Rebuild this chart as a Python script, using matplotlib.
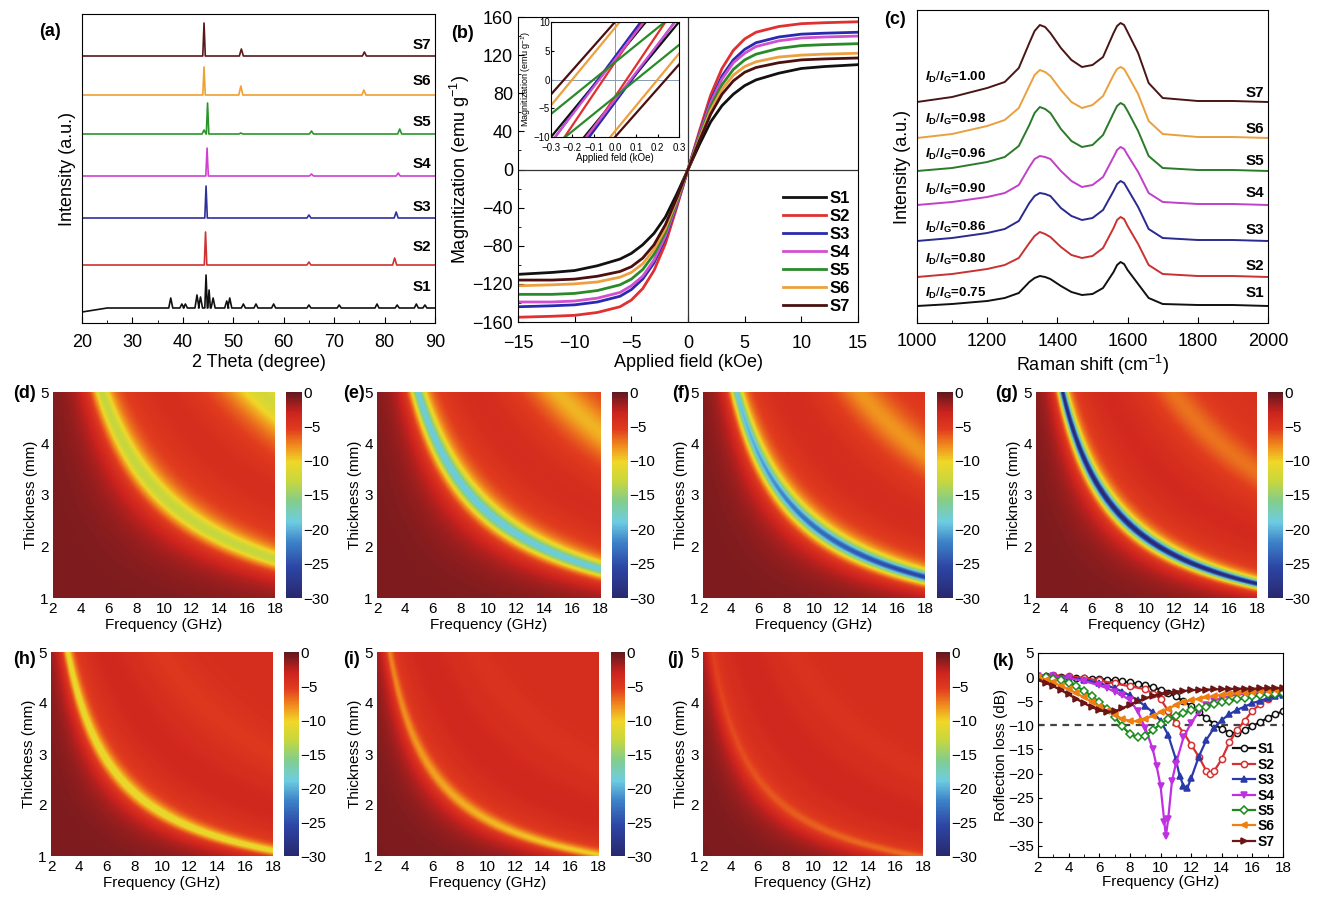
import numpy as np
import matplotlib.pyplot as plt
from matplotlib.colors import LinearSegmentedColormap

plt.rcParams['font.family'] = ['Liberation Sans', 'DejaVu Sans']
plt.rcParams['mathtext.fontset'] = 'custom'
plt.rcParams['mathtext.rm'] = 'Liberation Sans'
plt.rcParams['mathtext.it'] = 'Liberation Sans:italic'
plt.rcParams['mathtext.bf'] = 'Liberation Sans:bold'
plt.rcParams['mathtext.bfit'] = 'Liberation Sans:bold:italic'

samples = ['S1', 'S2', 'S3', 'S4', 'S5', 'S6', 'S7']

# (a) XRD: baseline level and (2theta, height) peaks per sample
xrd_base = [15, 58, 105, 147, 189, 228, 267]
xrd_peaks = [
    [(37.6, 10), (39.8, 4), (40.5, 4), (42.8, 13), (43.5, 11), (44.6, 33), (45.2, 18), (46.0, 10),
     (48.7, 7), (49.3, 10), (52.0, 4), (54.5, 4), (58.0, 4), (65.0, 3), (71.0, 3), (78.5, 4),
     (82.5, 3), (86.3, 4), (88.0, 3)],
    [(44.5, 33), (65.0, 3), (82.0, 7)],
    [(44.6, 32), (65.0, 3), (82.3, 6)],
    [(44.8, 28), (65.5, 2), (82.7, 3)],
    [(44.2, 4), (44.9, 31), (51.5, 1), (65.5, 3), (83.0, 5)],
    [(44.2, 28), (51.5, 9), (75.9, 5)],
    [(44.2, 33), (51.6, 7), (76.0, 4)],
]
xrd_label_y = [36, 76, 116, 159, 201, 242, 278]
xrd_colors = ['#111111', '#d03232', '#30309a', '#d040d0', '#2a962a', '#f0a030', '#5a1818']

# (b) hysteresis
field = [-15, -12, -10, -8, -6, -5, -4, -3, -2, -1, -0.5, 0, 0.5, 1, 2, 3, 4, 5, 6, 8, 10, 12, 15]
mag = [
    [-110, -108, -106, -101, -94, -88, -79, -67, -50, -26, -13, 0, 13, 26, 50, 67, 79, 88, 94, 101, 106, 108, 110],
    [-155, -154, -153, -150, -144, -137, -125, -106, -78, -40, -20, 0, 20, 40, 78, 106, 125, 137, 144, 150, 153, 154, 155],
    [-144, -143, -142, -139, -133, -126, -115, -98, -72, -37, -19, 0, 19, 37, 72, 98, 115, 126, 133, 139, 142, 143, 144],
    [-139, -139, -138, -135, -129, -122, -112, -95, -70, -36, -18, 0, 18, 36, 70, 95, 112, 122, 129, 135, 138, 139, 140],
    [-131, -131, -130, -127, -121, -115, -105, -89, -66, -34, -17, 0, 17, 34, 66, 89, 105, 115, 121, 127, 130, 131, 132],
    [-122, -121, -120, -118, -113, -108, -99, -84, -62, -32, -16, 0, 16, 32, 62, 84, 99, 108, 113, 118, 120, 121, 122],
    [-116, -116, -115, -112, -107, -102, -93, -79, -58, -30, -15, 0, 15, 30, 58, 79, 93, 102, 107, 112, 115, 116, 117],
]
inset_field = [-0.3, 0.3]
inset_upper = [(-10, 17), (-13.5, 19.5), (-11, 19), (-10.9, 17.9), (-6, 12), (-4.5, 22.5), (-2.6, 22.6)]
inset_lower = [(-17, 10), (-19.5, 13.5), (-19, 11), (-17.9, 10.9), (-12, 6), (-22.5, 4.5), (-22.6, 2.6)]
vsm_colors = ['#111111', '#e03030', '#2a2ab0', '#d050d0', '#2a8a2a', '#eea040', '#4a1010']

# (c) Raman
raman_x = [1000, 1100, 1200, 1250, 1290, 1320, 1335, 1350, 1365, 1380, 1410, 1440, 1470, 1500,
           1530, 1560, 1570, 1580, 1590, 1600, 1630, 1660, 1700, 1800, 1900, 2000]
raman_base = [17, 46, 82, 118, 152, 185, 221]
raman_prof = [
    [0, 2, 5, 8, 13, 24, 28, 30, 29, 27, 20, 14, 11, 12, 18, 34, 41, 44, 42, 36, 22, 8, 2, 1, 1, 0],
    [0, 3, 8, 12, 19, 34, 41, 45, 43, 40, 30, 22, 19, 21, 29, 49, 57, 60, 58, 51, 33, 12, 3, 1, 1, 0],
    [0, 3, 8, 12, 20, 38, 45, 48, 47, 45, 33, 25, 21, 23, 31, 50, 57, 60, 58, 52, 34, 12, 3, 1, 1, 0],
    [0, 3, 8, 12, 20, 38, 46, 49, 48, 46, 34, 24, 18, 20, 28, 48, 55, 58, 56, 50, 33, 12, 3, 1, 1, 0],
    [0, 3, 9, 14, 25, 46, 58, 64, 62, 58, 42, 30, 24, 26, 36, 58, 65, 68, 66, 60, 40, 15, 3, 1, 1, 0],
    [0, 4, 12, 18, 30, 52, 63, 68, 66, 62, 48, 36, 30, 33, 42, 63, 69, 71, 69, 63, 44, 17, 4, 1, 1, 0],
    [0, 5, 14, 20, 34, 59, 71, 77, 75, 69, 54, 42, 35, 37, 45, 69, 76, 79, 77, 70, 49, 19, 4, 1, 1, 0],
]
id_ig = ['0.75', '0.80', '0.86', '0.90', '0.96', '0.98', '1.00']
raman_ratio_y = [30, 64, 96, 134, 169, 204, 246]
raman_label_y = [30, 57, 93, 130, 162, 194, 230]
raman_colors = ['#111111', '#c83232', '#2a2a90', '#c040c8', '#2a7a2a', '#e8a040', '#4a1515']

# (d)-(j) RL maps: band crossing t=5 at f_top, band thickness at 18 GHz, depth at top/right end,
# band width, depth of the 3/4-wavelength band
map_labels = ['(d)', '(e)', '(f)', '(g)', '(h)', '(i)', '(j)']
band_f_top = [5.5, 4.9, 4.4, 3.9, 3.2, 2.9, 2.7]
band_t_right = [1.75, 1.55, 1.40, 1.27, 1.10, 1.02, 0.97]
band_depth_top = [-13, -19, -19, -30, -11, -7.5, -5.5]
band_depth_right = [-13, -19, -26, -30, -11, -10, -7]
band_width = [0.10, 0.08, 0.07, 0.05, 0.08, 0.08, 0.09]
band2_depth = [-12, -9, -8, -7, -5, -4.5, -4.5]

# (k) reflection loss
freq_2 = [2, 2.5, 3, 3.5, 4, 4.5, 5, 5.5, 6, 6.5, 7, 7.5, 8, 8.5, 9, 9.5, 10, 10.5, 11, 11.5,
          12, 12.5, 13, 13.5, 14, 14.5, 15, 15.5, 16, 16.5, 17, 17.5, 18]
rl_s1 = [0, 0.2, 0.2, 0.1, 0, -0.1, -0.2, -0.3, -0.4, -0.5, -0.7, -0.9, -1.1, -1.4, -1.7, -2.1, -2.6,
         -3.2, -4.0, -5.0, -6.0, -7.2, -8.5, -9.7, -10.8, -11.5, -11.6, -11.0, -10.2, -9.3, -8.5, -7.7, -7.1]
rl_s5 = [0.1, 0, -0.3, -0.7, -1.2, -1.9, -2.8, -3.9, -5.2, -6.6, -8.2, -10.2, -11.8, -12.5, -12.2, -11,
         -9.7, -8.7, -8.0, -7.4, -6.9, -6.5, -6.1, -5.6, -5.2, -4.9, -4.6, -4.3, -4.0, -3.8, -3.6, -3.4, -3.3]
rl_s6 = [0, -0.5, -1.1, -1.8, -2.5, -3.3, -4.2, -5.1, -6.1, -7.0, -7.9, -8.6, -9.1, -9.2, -8.7, -8.0,
         -7.3, -6.6, -5.8, -5.2, -4.8, -4.5, -4.2, -3.9, -3.7, -3.5, -3.3, -3.2, -3.0, -2.9, -2.8, -2.7, -2.6]
rl_s7 = [-0.6, -1.2, -1.9, -2.7, -3.6, -4.5, -5.4, -6.2, -6.9, -7.2, -7.1, -6.5, -5.7, -5.0, -4.4, -3.9,
         -3.5, -3.2, -3.0, -2.9, -2.7, -2.65, -2.6, -2.55, -2.5, -2.45, -2.4, -2.4, -2.4, -2.35, -2.3, -2.3, -2.3]
freq_s2 = [2, 3, 4, 5, 6, 7, 8, 9, 9.5, 10, 10.5, 11, 11.5, 12, 12.5, 13, 13.25, 13.5, 14, 14.5, 15,
           15.5, 16, 16.5, 17, 17.5, 18]
rl_s2 = [0.3, 0.4, 0.2, -0.2, -0.7, -1.3, -1.9, -2.5, -3.4, -4.5, -7, -9.5, -11.5, -14, -16.5, -19.5,
         -20, -19.5, -17, -13.5, -11, -9, -7, -5.6, -4.5, -3.6, -3.0]
freq_s3 = [2, 3, 4, 5, 6, 7, 7.5, 8, 8.5, 9, 9.5, 10, 10.5, 11, 11.25, 11.5, 11.75, 12, 12.5, 13, 13.5,
           14, 14.5, 15, 15.5, 16, 16.5, 17, 17.5, 18]
rl_s3 = [0.3, 0.3, 0, -0.5, -1.2, -2.3, -3.0, -3.8, -4.8, -6.0, -7.3, -9.0, -12, -17, -20.5, -22.5,
         -23, -21, -16.5, -13, -10.5, -8.9, -7.7, -6.8, -6.1, -5.4, -4.9, -4.4, -4.0, -3.7]
freq_s4 = [2, 3, 4, 5, 6, 6.5, 7, 7.5, 8, 8.5, 9, 9.5, 9.75, 10, 10.25, 10.35, 10.5, 10.75, 11, 11.5,
           12, 12.5, 13, 13.5, 14, 15, 16, 17, 18]
rl_s4 = [0.3, 0.2, -0.2, -0.8, -1.7, -2.3, -3.0, -3.8, -4.8, -7, -10.5, -15, -18.5, -22.5, -30, -33,
         -29.5, -21.5, -18, -12.5, -9.5, -7.2, -5.8, -4.9, -4.3, -3.6, -3.3, -3.1, -3.0]
rl_freq = [freq_2, freq_s2, freq_s3, freq_s4, freq_2, freq_2, freq_2]
rl_vals = [rl_s1, rl_s2, rl_s3, rl_s4, rl_s5, rl_s6, rl_s7]
rl_colors = ['#111111', '#d63030', '#2a3aa8', '#c030e0', '#1a8a1a', '#f07f10', '#6b1515']
rl_markers = ['o', 'o', '^', 'v', 'D', '<', '>']
rl_filled = [False, False, True, True, False, True, True]

W, H = 1318, 898
fig = plt.figure(figsize=(W / 100, H / 100), dpi=100)


def ax_px(x0, y0, x1, y1):
    return fig.add_axes([x0 / W, 1 - y1 / H, (x1 - x0) / W, (y1 - y0) / H])


def panel(lbl, x, y):
    fig.text(x / W, 1 - y / H, lbl, fontsize=13, fontweight='bold', ha='center', va='center')


# ---- (a)
ax = ax_px(82, 14, 435, 323)
for i in range(7):
    b = xrd_base[i]
    xs, ys = [20], [b - 4 if i == 0 else b]
    if i == 0:
        xs.append(25)
        ys.append(b)
    for pos, h in xrd_peaks[i]:
        hw = 0.25 if h > 15 else 0.4
        xs += [pos - hw, pos, pos + hw]
        ys += [b, b + h, b]
    xs.append(90)
    ys.append(b)
    ax.plot(xs, ys, color=xrd_colors[i], lw=1.2)
    ax.text(89.3, xrd_label_y[i], samples[i], ha='right', va='center', fontsize=11, fontweight='bold')
ax.set_xlim(20, 90)
ax.set_ylim(0, 309)
ax.set_yticks([])
ax.set_xticks(range(20, 91, 10))
ax.set_xticks(range(25, 90, 10), minor=True)
ax.tick_params(direction='in', labelsize=13, length=4, pad=8)
ax.tick_params(which='minor', direction='in', length=2.5)
ax.set_xlabel('2 Theta (degree)', fontsize=13, labelpad=2)
ax.set_ylabel('Intensity (a.u.)', fontsize=13)
panel('(a)', 50, 31)

# ---- (b)
ax = ax_px(518, 17, 858, 322)
ax.axhline(0, color='#333333', lw=0.9)
ax.axvline(0, color='#333333', lw=0.9)
for i in range(7):
    ax.plot(field, mag[i], color=vsm_colors[i], lw=2, label=samples[i])
ax.set_xlim(-15, 15)
ax.set_ylim(-160, 160)
ax.set_xticks(range(-15, 16, 5))
ax.set_yticks(range(-160, 161, 40))
ax.set_yticks(range(-140, 160, 40), minor=True)
ax.tick_params(direction='in', labelsize=13, length=4)
ax.tick_params(axis='x', pad=9)
ax.tick_params(which='minor', direction='in', length=2.5)
ax.set_xlabel('Applied field (kOe)', fontsize=13, labelpad=2)
ax.set_ylabel('Magnitization (emu g$^{-1}$)', fontsize=13, labelpad=0)
ax.legend(loc='lower right', frameon=False, prop={'weight': 'bold', 'size': 12}, handlelength=2.6,
          labelspacing=0.18, borderaxespad=0.1, handletextpad=0.2)
panel('(b)', 462, 34)

axi = ax_px(551, 22, 679, 137)
axi.axhline(0, color='#8a9ab0', lw=0.7)
axi.axvline(0, color='#8a9ab0', lw=0.7)
for i in range(7):
    axi.plot(inset_field, inset_upper[i], color=vsm_colors[i], lw=1.6)
    axi.plot(inset_field, inset_lower[i], color=vsm_colors[i], lw=1.6)
axi.set_xlim(-0.3, 0.3)
axi.set_ylim(-10, 10)
axi.set_xticks([-0.3, -0.2, -0.1, 0.0, 0.1, 0.2, 0.3])
axi.set_xticklabels(['\u22120.3', '\u22120.2', '\u22120.1', '0.0', '0.1', '0.2', '0.3'])
axi.set_yticks([-10, -5, 0, 5, 10])
axi.tick_params(direction='in', labelsize=7, length=2, pad=1)
axi.tick_params(axis='x', pad=4)
axi.set_xlabel('Applied feld (kOe)', fontsize=7, labelpad=0)
axi.set_ylabel('Magnitization (emu g$^{-1}$)', fontsize=6.5, labelpad=0)

# ---- (c)
ax = ax_px(917, 10, 1268, 323)
for i in range(7):
    ys = [raman_base[i] + v for v in raman_prof[i]]
    ax.plot(raman_x, ys, color=raman_colors[i], lw=1.4)
    ax.text(1988, raman_label_y[i], samples[i], ha='right', va='center', fontsize=11, fontweight='bold')
    ax.text(1023, raman_ratio_y[i], r'$\mathbfit{I}_\mathbf{D}/\mathbfit{I}_\mathbf{G}$=' + id_ig[i],
            ha='left', va='center', fontsize=9.5, fontweight='bold')
ax.set_xlim(1000, 2000)
ax.set_ylim(0, 313)
ax.set_yticks([])
ax.set_xticks(range(1000, 2001, 200))
ax.set_xticks(range(1100, 2000, 200), minor=True)
ax.tick_params(direction='in', labelsize=13, length=4, pad=7)
ax.tick_params(which='minor', direction='in', length=2.5)
ax.set_xlabel('Raman shift (cm$^{-1}$)', fontsize=13, labelpad=2)
ax.set_ylabel('Intensity (a.u.)', fontsize=13)
panel('(c)', 895, 20)

# ---- (d)-(j)
rl_cmap = LinearSegmentedColormap.from_list('rl', [
    (0.0, (40 / 255, 40 / 255, 110 / 255)),
    (0.15, (45 / 255, 70 / 255, 165 / 255)),
    (0.27, (60 / 255, 130 / 255, 200 / 255)),
    (0.37, (110 / 255, 205 / 255, 225 / 255)),
    (0.47, (130 / 255, 205 / 255, 140 / 255)),
    (0.57, (200 / 255, 215 / 255, 60 / 255)),
    (0.66, (240 / 255, 215 / 255, 40 / 255)),
    (0.74, (240 / 255, 140 / 255, 30 / 255)),
    (0.82, (225 / 255, 60 / 255, 30 / 255)),
    (0.90, (205 / 255, 35 / 255, 30 / 255)),
    (1.0, (95 / 255, 25 / 255, 30 / 255)),
])
heat_boxes = [(53, 392, 275, 598, 286, 302), (377, 392, 600, 598, 612, 628),
              (703, 392, 925, 598, 937, 953), (1036, 392, 1257, 598, 1268, 1283),
              (51, 652, 273, 856, 284, 299), (377, 652, 598, 856, 611, 625),
              (703, 652, 923, 856, 936, 950)]
label_pos = [(24, 393), (354, 393), (681, 393), (1007, 393), (24, 660), (351, 660), (676, 660)]
freq = np.linspace(2, 18, 260)
thick = np.linspace(1, 5, 220)
F, T = np.meshgrid(freq, thick)
for k in range(7):
    ft, tr = band_f_top[k], band_t_right[k]
    p = np.log(5 / tr) / np.log(18 / ft)
    s = np.log(T / 5) + p * np.log(F / ft)
    frac = np.clip(np.log(F / ft) / np.log(18 / ft), 0, 1)
    dep = band_depth_top[k] + (band_depth_right[k] - band_depth_top[k]) * frac
    bg = np.where(s < 0, -0.8 - 3.2 * np.exp(s / 0.25),
                  -4.0 + 0.7 * np.exp(-((s - 0.55) / 0.2) ** 2))
    rl = bg + (dep - bg) / (1 + (s / band_width[k]) ** 2)
    rl = rl + (band2_depth[k] + 4.0) / (1 + ((s - 1.0) / 0.12) ** 2)
    x0, y0, x1, y1, c0, c1 = heat_boxes[k]
    ax = ax_px(x0, y0, x1, y1)
    im = ax.imshow(rl, extent=[2, 18, 1, 5], origin='lower', aspect='auto', cmap=rl_cmap,
                   vmin=-30, vmax=0, interpolation='bilinear')
    ax.set_xticks(range(2, 19, 2))
    ax.set_yticks(range(1, 6))
    ax.tick_params(labelsize=11, length=0, pad=3)
    for sp in ax.spines.values():
        sp.set_visible(False)
    ax.set_xlabel('Frequency (GHz)', fontsize=11, labelpad=1)
    ax.set_ylabel('Thickness (mm)', fontsize=11, labelpad=2)
    cax = ax_px(c0, y0, c1, y1)
    cb = fig.colorbar(im, cax=cax, ticks=[0, -5, -10, -15, -20, -25, -30])
    cb.outline.set_visible(False)
    cax.tick_params(labelsize=11, length=0, pad=1)
    panel(map_labels[k], *label_pos[k])

# ---- (k)
ax = ax_px(1038, 653, 1283, 857)
ax.axhline(-10, color='#444444', lw=1.6, ls=(0, (3, 2.5)))
for i in range(7):
    ax.plot(rl_freq[i], rl_vals[i], color=rl_colors[i], lw=1.6, marker=rl_markers[i], markersize=4.5,
            markerfacecolor=rl_colors[i] if rl_filled[i] else 'white', markeredgewidth=1.1,
            label=samples[i])
ax.set_xlim(2, 18)
ax.set_ylim(-37.3, 5)
ax.set_xticks(range(2, 19, 2))
ax.set_yticks(range(-35, 6, 5))
ax.set_xticks(range(3, 18, 2), minor=True)
ax.tick_params(direction='in', labelsize=11, length=3, pad=3)
ax.tick_params(which='minor', direction='in', length=2)
ax.set_xlabel('Frequency (GHz)', fontsize=11, labelpad=0)
ax.set_ylabel('Roflection loss (dB)', fontsize=11, labelpad=0)
ax.legend(loc='lower right', frameon=False, prop={'weight': 'bold', 'size': 10}, handlelength=1.6,
          labelspacing=0.1, borderaxespad=0.2, handletextpad=0.2)
panel('(k)', 1003, 662)

fig.savefig('out.png', dpi=100)
